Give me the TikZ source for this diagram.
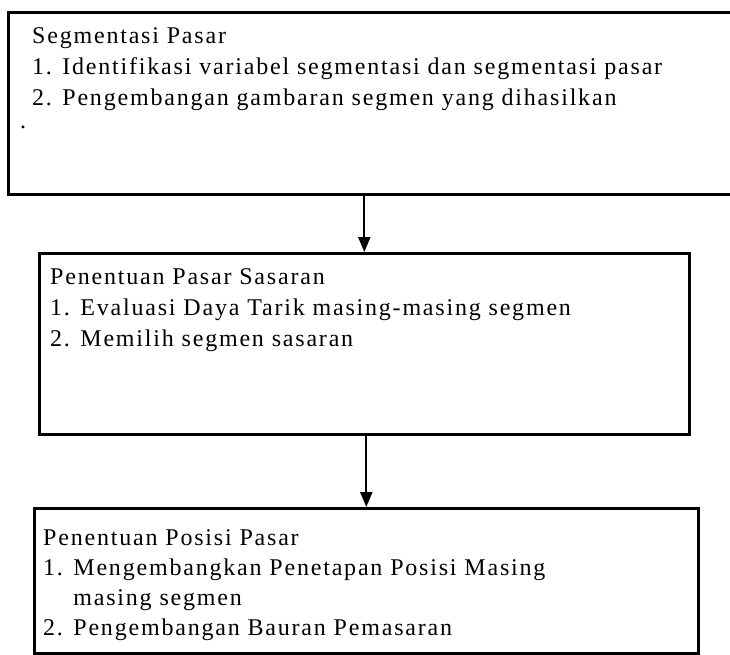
\documentclass[tikz,border=0pt]{standalone}
\usepackage{fontspec}
\setmainfont{Liberation Serif}[LetterSpace=7.5]
\usetikzlibrary{arrows.meta,positioning}
\tikzset{
    flow diagram/.style = {x=1pt, y=-1pt, >={Triangle[length=15pt, width=12pt]}},
    line/.style         = {line width=2.2pt},
    stage/.style        = {draw, line width=2.6pt, inner sep=0pt,
                           anchor=north west},
    stage text/.style   = {anchor=north west, inner sep=0pt, align=left,
                           font=\fontsize{24}{31}\selectfont},
    tight text/.style   = {stage text, font=\fontsize{24}{30}\selectfont}
}

\begin{document}
\begin{tikzpicture}[flow diagram]
\useasboundingbox (0,0) rectangle (730,654);

% ================= Stage 1: segmentation =================
\node[stage, minimum width=733pt, minimum height=182pt] (seg) at (7,11) {};
\node[stage text, below right=16pt and 25pt of seg.north west] (segtxt)
    {Segmentasi Pasar\\
     1. Identifikasi variabel segmentasi dan segmentasi pasar\\
     2. Pengembangan gambaran segmen yang dihasilkan};
\node[stage text, below right=115pt and 13pt of seg.north west] (stray) {.};

% ================= Stage 2: targeting =================
\node[stage, minimum width=650pt, minimum height=181pt] (target) at (38,252) {};
\node[stage text, below right=16pt and 12pt of target.north west] (targettxt)
    {Penentuan Pasar Sasaran\\
     1. Evaluasi Daya Tarik masing-masing segmen\\
     2. Memilih segmen sasaran};

% ================= Stage 3: positioning =================
\node[stage, minimum width=664pt, minimum height=145pt] (pos) at (33,507) {};
\node[tight text, below right=22pt and 10pt of pos.north west] (postxt)
    {Penentuan Posisi Pasar\\
     1. Mengembangkan Penetapan Posisi Masing\\
     \phantom{1. }masing segmen\\
     2. Pengembangan Bauran Pemasaran};

% ================= Arrows =================
\draw[->, line] (seg.south -| target.north) -- (target.north);
\draw[->, line] (target.south -| pos.north) -- (pos.north);

\end{tikzpicture}
\end{document}
